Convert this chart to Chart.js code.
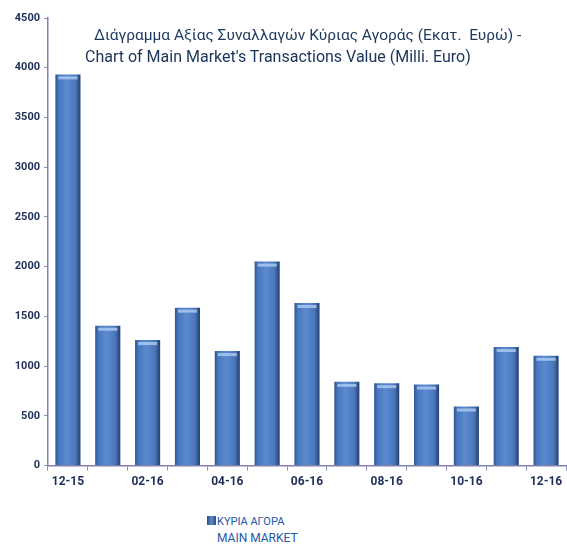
<!DOCTYPE html>
<html>
<head>
<meta charset="utf-8">
<script src="https://cdn.jsdelivr.net/npm/chart.js@4/dist/chart.umd.min.js"></script>
<style>
  html, body { margin: 0; padding: 0; background: #fff; }
  #wrap { position: relative; width: 567px; height: 545px; }
  #box { position: absolute; left: 0; top: 0; width: 567px; height: 493px; }
  #title {
    position: absolute; left: 56px; top: 24px; width: 511px;
    font-family: Roboto, "Liberation Sans", sans-serif; font-size: 15.5px; color: #1f3a5f;
    line-height: 22px; white-space: nowrap;
  }
  #title .l1 { padding-left: 38px; }
  #title .l2 { padding-left: 29px; font-size: 16px; color: #1a3358; }
  #legend {
    position: absolute; left: 207px; top: 513px;
    font-family: Roboto, "Liberation Sans", sans-serif; color: #2456a8;
    line-height: 17px;
  }
  #legend .l1 { font-size: 11px; }
  #legend .sw {
    display: inline-block; width: 9px; height: 9px; margin-right: 1px;
    background: linear-gradient(90deg, #2c4d80, #5b8ad0 50%, #2c4d80);
    vertical-align: 0px;
  }
  #legend .l2 { padding-left: 10px; font-size: 12px; }
</style>
</head>
<body>
<div id="wrap">
  <div id="box"><canvas id="chart"></canvas></div>
  <div id="title">
    <div class="l1">Διάγραμμα Αξίας Συναλλαγών Κύριας Αγοράς (Εκατ.&nbsp; Ευρώ) -</div>
    <div class="l2">Chart of Main Market's Transactions Value (Milli. Euro)</div>
  </div>
  <div id="legend">
    <div class="l1"><span class="sw"></span>ΚΥΡΙΑ ΑΓΟΡΑ</div>
    <div class="l2">MAIN MARKET</div>
  </div>
</div>
<script>
const months = ['12-15', '01-16', '02-16', '03-16', '04-16', '05-16', '06-16',
  '07-16', '08-16', '09-16', '10-16', '11-16', '12-16'];
const mainMarket = [3933, 1406, 1262, 1588, 1151, 2051, 1635, 842, 829, 815, 594, 1192, 1104];
const yTicks = [0, 500, 1000, 1500, 2000, 2500, 3000, 3500, 4000, 4500];

const BAR_PCT = 0.63;
const tickFont = { family: 'Roboto, "Liberation Sans", sans-serif', size: 11, weight: 'bold' };

function barFill(context) {
  const chart = context.chart;
  const x = chart.scales.x;
  if (!x || !chart.chartArea) return '#4f7fc4';
  const cx = x.getPixelForValue(context.dataIndex);
  const half = (x.width / months.length) * BAR_PCT / 2;
  const g = chart.ctx.createLinearGradient(cx - half, 0, cx + half, 0);
  g.addColorStop(0, '#2f548c');
  g.addColorStop(0.12, '#4676bd');
  g.addColorStop(0.45, '#5b8ad0');
  g.addColorStop(0.8, '#4a77bb');
  g.addColorStop(1, '#233f6b');
  return g;
}

// light cap on top of each bar
const barCaps = {
  id: 'barCaps',
  afterDatasetsDraw(chart) {
    const ctx = chart.ctx;
    chart.getDatasetMeta(0).data.forEach(bar => {
      const w = bar.width;
      ctx.save();
      ctx.fillStyle = 'rgba(170, 200, 240, 0.85)';
      ctx.fillRect(bar.x - w / 2 + 3, bar.y + 2, w - 6, 3);
      ctx.restore();
    });
  }
};

new Chart(document.getElementById('chart'), {
  type: 'bar',
  data: {
    labels: months,
    datasets: [{
      label: 'ΚΥΡΙΑ ΑΓΟΡΑ',
      data: mainMarket,
      backgroundColor: barFill,
      borderWidth: 0,
      barPercentage: BAR_PCT,
      categoryPercentage: 1
    }]
  },
  options: {
    responsive: true,
    maintainAspectRatio: false,
    animation: false,
    layout: { padding: { top: 18, right: 1, left: 0, bottom: 0 } },
    plugins: {
      legend: { display: false },
      tooltip: { enabled: false }
    },
    scales: {
      x: {
        grid: {
          display: true,
          drawOnChartArea: false,
          color: '#8c8cb8',
          tickLength: 5
        },
        border: { color: '#8080b0', width: 1.5 },
        ticks: {
          autoSkip: false,
          maxRotation: 0,
          color: '#1f2f5a',
          font: { ...tickFont, size: 12 },
          padding: 4,
          callback: (v, i) => (i % 2 === 0 ? months[i] : '')
        }
      },
      y: {
        min: 0,
        max: 4500,
        afterBuildTicks: axis => { axis.ticks = yTicks.map(v => ({ value: v })); },
        afterFit: axis => { axis.width = 48; },
        grid: {
          display: true,
          drawOnChartArea: false,
          color: '#8c8cb8',
          tickLength: 4
        },
        border: { color: '#8080b0', width: 1.5 },
        ticks: {
          color: '#1f2f5a',
          font: tickFont,
          padding: 4,
          callback: v => String(v)
        }
      }
    }
  },
  plugins: [barCaps]
});
</script>
</body>
</html>
